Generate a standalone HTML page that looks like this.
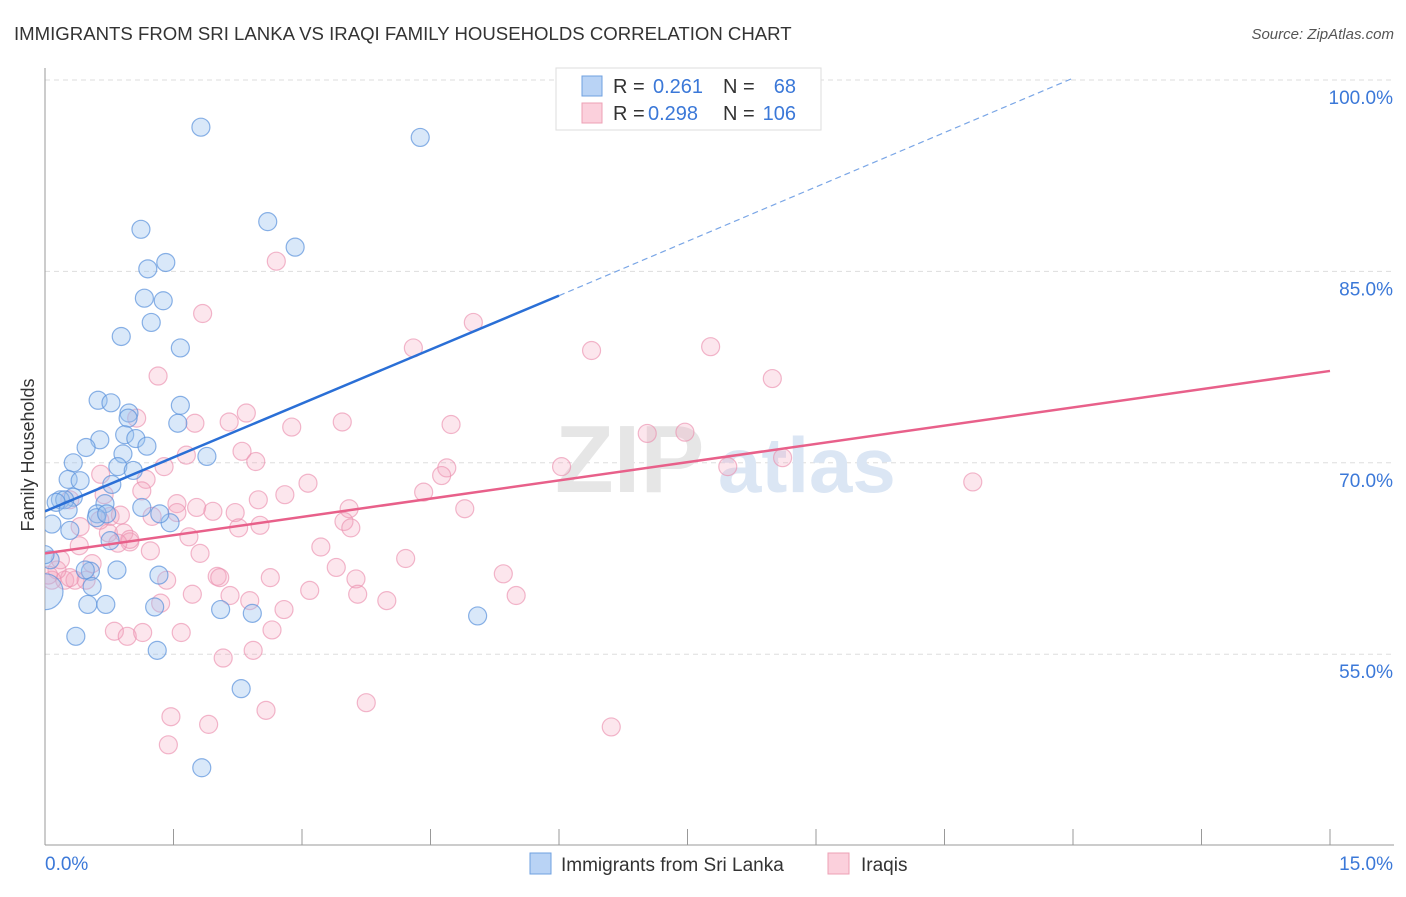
<!DOCTYPE html>
<html><head><meta charset="utf-8"><style>
body{margin:0;background:#fff;font-family:"Liberation Sans",sans-serif;}
svg text{font-family:"Liberation Sans",sans-serif;}
</style></head><body>
<svg id="chart" width="1406" height="892" viewBox="0 0 1406 892" xmlns="http://www.w3.org/2000/svg">
<defs><clipPath id="plotclip"><rect x="45" y="60" width="1360" height="785"/></clipPath></defs>
<text x="14" y="40" font-size="18.6" fill="#333">IMMIGRANTS FROM SRI LANKA VS IRAQI FAMILY HOUSEHOLDS CORRELATION CHART</text>
<text x="1394" y="39" font-size="15" fill="#555" text-anchor="end" font-style="italic">Source: ZipAtlas.com</text>
<text x="34" y="455" font-size="18" fill="#333" text-anchor="middle" transform="rotate(-90 34 455)">Family Households</text>
<g id="grid"></g>
<g><text x="555" y="492" font-size="96" fill="#e6e6e6" font-family="Liberation Serif" font-weight="bold">ZIP</text><text x="718" y="492" font-size="78" fill="#dbe6f4" font-weight="bold">atlas</text></g>
<g id="marks" clip-path="url(#plotclip)"></g>
<g>
<rect x="556" y="68" width="265" height="62" fill="#fff" stroke="#ddd"/>
<rect x="582" y="76" width="20" height="20" fill="#b9d3f5" stroke="#6fa0e0"/>
<text x="613" y="93" font-size="20" fill="#333">R =</text><text x="653" y="93" font-size="20" fill="#3b78d8">0.261</text>
<text x="723" y="93" font-size="20" fill="#333">N =</text><text x="796" y="93" font-size="20" fill="#3b78d8" text-anchor="end">68</text>
<rect x="582" y="103" width="20" height="20" fill="#fbd0dc" stroke="#eea0b5"/>
<text x="613" y="120" font-size="20" fill="#333">R =</text><text x="648" y="120" font-size="20" fill="#3b78d8">0.298</text>
<text x="723" y="120" font-size="20" fill="#333">N =</text><text x="796" y="120" font-size="20" fill="#3b78d8" text-anchor="end">106</text>
</g>
<g>
<rect x="530" y="853" width="21" height="21" fill="#b9d3f5" stroke="#6fa0e0"/>
<text x="561" y="871" font-size="19" fill="#333">Immigrants from Sri Lanka</text>
<rect x="828" y="853" width="21" height="21" fill="#fbd0dc" stroke="#eea0b5"/>
<text x="861" y="871" font-size="19" fill="#333">Iraqis</text>
</g>
</svg>
<script>
const yTicks=[100,85,70,55];
const yTickLabels=["100.0%","85.0%","70.0%","55.0%"];
const xTickLabels=["0.0%","15.0%"];
const blueX=[1.82,4.38,2.60,2.92,1.12,1.41,1.20,1.16,1.38,1.24,0.89,1.58,0.62,0.77,0.98,0.97,1.58,1.55,0.93,1.06,0.64,1.19,0.48,1.89,0.33,0.91,0.85,1.03,0.78,0.27,0.41,0.33,0.18,0.23,0.13,0.70,0.08,0.29,0.61,0.60,0.72,1.13,1.46,1.34,0.76,0.27,0.84,0.53,0.47,1.33,0.55,0.50,0.71,1.28,2.05,2.42,5.05,0.36,1.31,2.29,1.83,0.00,0.06,0.00];
const blueY=[96.3,95.5,88.9,86.9,88.3,85.7,85.2,82.9,82.7,81.0,79.9,79.0,74.9,74.7,73.9,73.5,74.5,73.1,72.2,71.9,71.8,71.3,71.2,70.5,70.0,70.7,69.7,69.4,68.3,68.7,68.6,67.3,67.1,67.1,66.9,66.8,65.2,64.7,66.0,65.7,66.0,66.5,65.3,66.0,63.9,66.3,61.6,61.5,61.6,61.2,60.3,58.9,58.9,58.7,58.5,58.2,58.0,56.4,55.3,52.3,46.1,59.9,62.4,62.8];
const pinkX=[2.70,1.84,5.00,4.30,6.38,7.77,8.49,1.32,2.35,1.07,1.75,2.15,2.88,3.47,4.74,7.03,7.47,2.30,2.46,1.65,1.39,0.65,4.69,4.63,6.03,7.97,8.61,10.83,3.07,1.18,4.42,1.13,0.69,1.54,1.77,1.96,2.49,3.55,2.22,1.54,1.25,0.76,4.90,3.49,3.57,2.26,2.51,0.41,0.74,0.92,0.99,0.99,0.85,0.40,1.23,1.68,3.22,0.55,1.81,4.21,3.40,2.63,2.01,2.04,1.42,3.63,5.35,0.23,0.35,0.29,1.72,1.35,2.39,2.79,3.99,3.65,5.50,0.81,0.96,1.14,1.59,2.65,2.08,2.43,1.47,1.44,1.91,2.58,3.75,6.61,0.14,0.08,0.18,0.04,0.48,0.64,0.29,0.88,3.09,2.80,2.16];
const pinkY=[85.8,81.7,81.0,79.0,78.8,79.1,76.6,76.8,73.9,73.5,73.1,73.2,72.8,73.2,73.0,72.3,72.4,70.9,70.1,70.6,69.7,69.1,69.6,69.0,69.7,69.7,70.4,68.5,68.4,68.7,67.7,67.8,67.5,66.8,66.5,66.2,67.1,66.4,66.1,66.1,65.8,65.8,66.4,65.4,64.9,64.9,65.1,65.0,64.5,64.5,63.8,64.0,63.7,63.5,63.1,64.2,63.4,62.1,62.9,62.5,61.8,61.0,61.1,61.0,60.8,60.9,61.3,60.8,60.8,61.0,59.7,59.0,59.2,58.5,59.2,59.7,59.6,56.8,56.4,56.7,56.7,56.9,54.7,55.3,50.1,47.9,49.5,50.6,51.2,49.3,61.6,60.8,62.4,61.2,60.8,65.5,67.1,65.9,60.0,67.5,59.6];
const blueTrend=[[0,66.2],[6.0,83.1],[12.02,100.2]];
const pinkTrend=[[0,62.9],[15,77.2]];
const NS="http://www.w3.org/2000/svg";
const X=v=>45+v*(1285/15);
const Y=v=>80+(100-v)*12.76;
const grid=document.getElementById('grid'), marks=document.getElementById('marks');
function mk(tag,attrs,parent){const e=document.createElementNS(NS,tag);for(const k in attrs)e.setAttribute(k,attrs[k]);parent.appendChild(e);return e;}
yTicks.forEach((t,i)=>{
 const l=mk('line',{x1:45,x2:1394,y1:Y(t),y2:Y(t),stroke:'#ddd','stroke-dasharray':'5,4'},grid);
 
 
 const tx=mk('text',{x:1393,y:Y(t)+24,'font-size':19,fill:'#3b78d8','text-anchor':'end'},grid);
 tx.textContent=yTickLabels[i];
 
 
});
const ax=mk('line',{x1:45,x2:45,y1:68,y2:845,stroke:'#999'},grid);


const bx=mk('line',{x1:45,x2:1394,y1:845,y2:845,stroke:'#999'},grid);


for(let i=0;i<=10;i++){const v=i*1.5;const t=mk('line',{x1:X(v),x2:X(v),y1:845,y2:i==0?845:829,stroke:'#999'},grid);
 
 }
[[0,'start',45],[15,'end',1393]].forEach((a,i)=>{const t=mk('text',{x:a[2],y:870,'font-size':19,fill:'#3b78d8','text-anchor':a[1]},grid);t.textContent=xTickLabels[i];
 
 });
function dots(xs,ys,fill,stroke,name){xs.forEach((x,i)=>{const big=(x===0&&ys[i]<61);const c=mk('circle',{cx:X(x),cy:Y(ys[i]),r:big?18:9,fill:fill,stroke:stroke,'stroke-width':1.2},marks);
 
 });}
dots(pinkX,pinkY,'rgba(245,165,190,0.28)','rgba(235,145,175,0.65)','iraqis-point');
dots(blueX,blueY,'rgba(155,195,240,0.38)','rgba(90,145,220,0.7)','sri-lanka-point');
const bl=mk('line',{x1:X(blueTrend[0][0]),y1:Y(blueTrend[0][1]),x2:X(blueTrend[1][0]),y2:Y(blueTrend[1][1]),stroke:'#2a6fd6','stroke-width':2.5},marks);


const bd=mk('line',{x1:X(blueTrend[1][0]),y1:Y(blueTrend[1][1]),x2:X(blueTrend[2][0]),y2:Y(blueTrend[2][1]),stroke:'#7aa6e6','stroke-width':1.2,'stroke-dasharray':'6,4'},marks);


const pl=mk('line',{x1:X(pinkTrend[0][0]),y1:Y(pinkTrend[0][1]),x2:X(pinkTrend[1][0]),y2:Y(pinkTrend[1][1]),stroke:'#e8608a','stroke-width':2.5},marks);


</script>
</body></html>
